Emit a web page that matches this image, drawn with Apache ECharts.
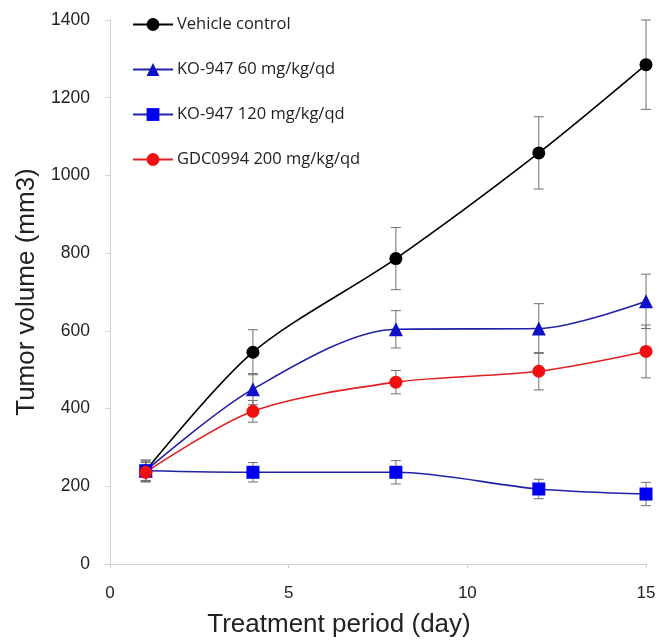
<!DOCTYPE html>
<html><head><meta charset="utf-8">
<script src="https://cdn.jsdelivr.net/npm/echarts@6/dist/echarts.min.js"></script>
<style>html,body{margin:0;padding:0;background:#fff}#c{width:670px;height:643px}</style>
</head><body><div id="c"></div>
<script>
const days = [1, 4, 8, 12, 15];
const xTicks = [0, 5, 10, 15];
const yTicks = [0, 200, 400, 600, 800, 1000, 1200, 1400];
const seriesNames = ['Vehicle control', 'KO-947 60 mg/kg/qd', 'KO-947 120 mg/kg/qd', 'GDC0994 200 mg/kg/qd'];
const vehicle = [240, 545, 786, 1058, 1285];
const vehicleErr = [28, 58, 80, 93, 115];
const ko60 = [240, 450, 604, 606, 676];
const ko60Err = [25, 40, 48, 64, 70];
const ko120 = [240, 236, 236, 193, 180];
const ko120Err = [25, 25, 30, 25, 30];
const gdc = [236, 393, 468, 496, 547];
const gdcErr = [25, 28, 30, 48, 68];

const colors = ['#000000', '#1010c8', '#0000f0', '#f01010'];
const symbols = ['circle', 'triangle', 'rect', 'circle'];
const symbolSizes = [13, 14, 13, 13];
const lineColors = ['#000000', '#2020a8', '#2020a8', '#e02020'];
const vals = [vehicle, ko60, ko120, gdc];
const errs = [vehicleErr, ko60Err, ko120Err, gdcErr];

const series = [];
vals.forEach((v, i) => {
  series.push({
    type: 'custom',
    name: seriesNames[i] + ' err',
    z: 1,
    silent: true,
    data: days.map((d, k) => [d, v[k] - errs[i][k], v[k] + errs[i][k]]),
    renderItem: function (params, api) {
      const lo = api.coord([api.value(0), api.value(1)]);
      const hi = api.coord([api.value(0), api.value(2)]);
      const w = 5;
      const st = { stroke: '#707070', lineWidth: 1 };
      return { type: 'group', children: [
        { type: 'line', shape: { x1: lo[0], y1: lo[1], x2: hi[0], y2: hi[1] }, style: st },
        { type: 'line', shape: { x1: lo[0] - w, y1: lo[1], x2: lo[0] + w, y2: lo[1] }, style: st },
        { type: 'line', shape: { x1: hi[0] - w, y1: hi[1], x2: hi[0] + w, y2: hi[1] }, style: st }
      ]};
    }
  });
});
vals.forEach((v, i) => {
  series.push({
    type: 'line',
    name: seriesNames[i],
    z: 3,
    smooth: 0.3,
    data: days.map((d, k) => [d, v[k]]),
    symbol: symbols[i],
    symbolSize: symbolSizes[i],
    itemStyle: { color: colors[i] },
    lineStyle: { color: lineColors[i], width: 1.6 }
  });
});

const chart = echarts.init(document.getElementById('c'), null, { renderer: 'canvas' });
chart.setOption({
  animation: false,
  backgroundColor: '#fff',
  grid: { left: 110, right: 24, top: 20, bottom: 78 },
  legend: {
    data: seriesNames,
    orient: 'vertical',
    left: 127, top: 11,
    itemWidth: 40, itemHeight: 16,
    itemGap: 28,
    textStyle: { fontFamily: 'Open Sans', fontSize: 16.5, lineHeight: 16, color: '#222', padding: [0, 0, 0, -1] }
  },
  xAxis: {
    type: 'value', min: 0, max: 15, interval: 5,
    name: 'Treatment period (day)', nameLocation: 'middle', nameGap: 48,
    nameTextStyle: { fontFamily: 'Liberation Sans', fontSize: 26, color: '#222', padding: [0, 78, 0, 0] },
    axisLine: { lineStyle: { color: '#d0d0d0' } },
    axisTick: { show: true, length: 4, lineStyle: { color: '#d0d0d0' } },
    axisLabel: { fontFamily: 'Liberation Sans', fontSize: 17, color: '#222', margin: 21 },
    splitLine: { show: false }
  },
  yAxis: {
    type: 'value', min: 0, max: 1400, interval: 200,
    name: 'Tumor volume (mm3)', nameLocation: 'middle', nameGap: 68,
    nameTextStyle: { fontFamily: 'Liberation Sans', fontSize: 26, color: '#222' },
    axisLine: { show: true, lineStyle: { color: '#d0d0d0' } },
    axisTick: { show: true, length: 5, lineStyle: { color: '#d0d0d0' } },
    axisLabel: { fontFamily: 'Liberation Sans', fontSize: 17.5, color: '#222', margin: 20,
      formatter: function (v) { return String(v); } },
    splitLine: { show: false }
  },
  series: series
});
</script>
</body></html>
